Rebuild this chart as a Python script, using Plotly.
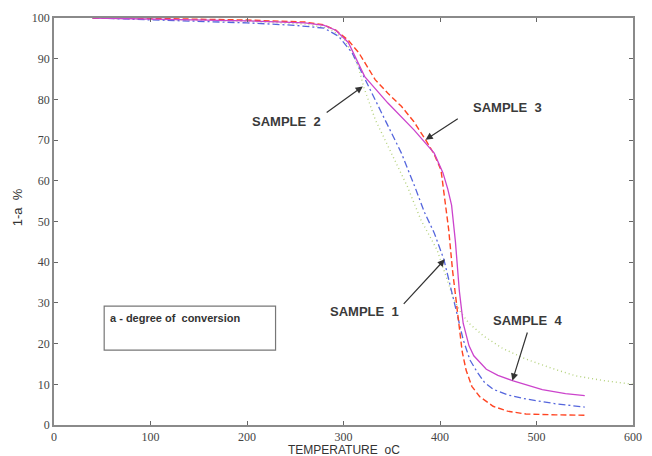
import plotly.graph_objects as go

# ---- data ----
# SAMPLE 1 : blue dash-dot
s1_t = [40, 100, 200, 250, 280, 295, 309, 326, 343, 360, 374, 384, 394, 404, 414, 424, 431, 438, 446, 455, 470, 489, 520, 550]
s1_y = [100, 99.6, 98.8, 98.2, 97.5, 95.5, 91.4, 83.2, 75, 66.8, 58.5, 52.2, 47.2, 40.7, 30.9, 21, 16, 13.2, 10.5, 8.8, 7.4, 6.4, 5.2, 4.4]
# SAMPLE 2 : green dotted
s2_t = [40, 100, 200, 260, 285, 300, 310, 316, 321, 333, 350, 366, 380, 397, 407, 414, 422, 430, 445, 465, 489, 515, 540, 570, 600]
s2_y = [100, 99.7, 99.2, 98.5, 97.5, 95, 91, 87.5, 83, 75, 66.8, 58.7, 50.5, 43, 36, 31, 27.5, 25, 21.9, 18.8, 16.2, 14, 12.1, 10.9, 10]
# SAMPLE 3 : red dashed
s3_t = [40, 100, 200, 260, 280, 292, 305, 316, 333, 346, 360, 373, 385, 394, 401, 405, 409, 413, 419, 423, 427, 433, 441, 455, 470, 489, 520, 550]
s3_y = [100, 99.9, 99.5, 99, 98.3, 97, 94.5, 91.4, 84.8, 81.5, 78.3, 74.5, 70.1, 66.5, 62.7, 56, 48, 38, 26, 18, 13.5, 9.5, 7, 4.6, 3.4, 2.7, 2.5, 2.4]
# SAMPLE 4 : magenta solid
s4_t = [40, 100, 200, 260, 280, 292, 305, 322, 346, 373, 394, 403, 408, 412, 416, 420, 424, 430, 435, 448, 460, 475, 490, 506, 530, 550]
s4_y = [100, 99.8, 99.3, 98.8, 98.2, 97, 94, 85.6, 79.1, 72.5, 66.8, 62, 58, 54, 45, 33, 25, 19.5, 17, 13.7, 12.2, 10.9, 9.8, 8.7, 7.7, 7.2]

x_ticks = [0, 100, 200, 300, 400, 500, 600]
y_ticks = [0, 10, 20, 30, 40, 50, 60, 70, 80, 90, 100]

NB = "\u00a0"
# annotation labels: (text, text_x, text_y, tail_x, tail_y, tip_x, tip_y)
labels = [
    ("SAMPLE" + NB + NB + "2", 241, 74.6, 281, 76.5, 320, 83.2),
    ("SAMPLE" + NB + NB + "3", 470, 78.0, 420, 75.5, 385, 70.1),
    ("SAMPLE" + NB + NB + "1", 322, 28.0, 361, 29.4, 405, 40.7),
    ("SAMPLE" + NB + NB + "4", 491, 25.6, 491, 23.1, 475, 10.9),
]

fig = go.Figure()
fig.add_trace(go.Scatter(x=s2_t, y=s2_y, mode="lines",
                         line=dict(color="#b5d27e", width=1.4, dash="1px,3px")))
fig.add_trace(go.Scatter(x=s1_t, y=s1_y, mode="lines",
                         line=dict(color="#5566dd", width=1.3, dash="7px,3px,2px,3px")))
fig.add_trace(go.Scatter(x=s3_t, y=s3_y, mode="lines",
                         line=dict(color="#ff4422", width=1.4, dash="6px,3px")))
fig.add_trace(go.Scatter(x=s4_t, y=s4_y, mode="lines",
                         line=dict(color="#cc44cc", width=1.3)))

for text, tx, ty, ax, ay, px, py in labels:
    fig.add_annotation(x=tx, y=ty, text="<b>" + text + "</b>", showarrow=False,
                       font=dict(family="Liberation Sans", size=13, color="#3a3a3a"),
                       xref="x", yref="y")
    fig.add_annotation(x=px, y=py, ax=ax, ay=ay, xref="x", yref="y",
                       axref="x", ayref="y", text="", showarrow=True,
                       arrowhead=2, arrowsize=1.2, arrowwidth=1.2, arrowcolor="#333333")

# legend-like box
fig.add_shape(type="rect", x0=52, x1=229.6, y0=18.4, y1=29.2, xref="x", yref="y",
              line=dict(color="#777777", width=1.2), fillcolor="rgba(0,0,0,0)")
fig.add_annotation(x=56, y=26.4, text="<b>a - degree of" + NB + NB + "conversion</b>", showarrow=False,
                   xanchor="left", xref="x", yref="y",
                   font=dict(family="Liberation Sans", size=11, color="#333333"))

# axis titles
fig.add_annotation(x=0.5, y=-0.0625, xref="paper", yref="paper", text="TEMPERATURE" + NB + NB + "oC",
                   showarrow=False, yanchor="middle", xanchor="center",
                   font=dict(family="Liberation Sans", size=12, color="#333333"))
fig.add_annotation(x=-0.063, y=0.534, xref="paper", yref="paper", text="1-a" + NB + NB + "%",
                   showarrow=False, textangle=-90, xanchor="center", yanchor="middle",
                   font=dict(family="Liberation Sans", size=13, color="#333333"))

axis_common = dict(showgrid=False, zeroline=False, showline=True, linecolor="#8a8a8a",
                   linewidth=1.6, mirror="ticks", ticks="inside", ticklen=4,
                   tickcolor="#666666", tickwidth=1,
                   tickfont=dict(family="Liberation Serif, Times New Roman, serif", size=12, color="#444444"))

fig.update_xaxes(range=[0, 600], tickvals=x_ticks, ticktext=[str(v) for v in x_ticks], **axis_common)
fig.update_yaxes(range=[0, 100], tickvals=y_ticks, ticktext=[str(v) for v in y_ticks], **axis_common)

fig.update_layout(width=652, height=456, margin=dict(l=54, r=10, t=18, b=31),
                  paper_bgcolor="white", plot_bgcolor="white", showlegend=False)

fig.write_html("out.html")
